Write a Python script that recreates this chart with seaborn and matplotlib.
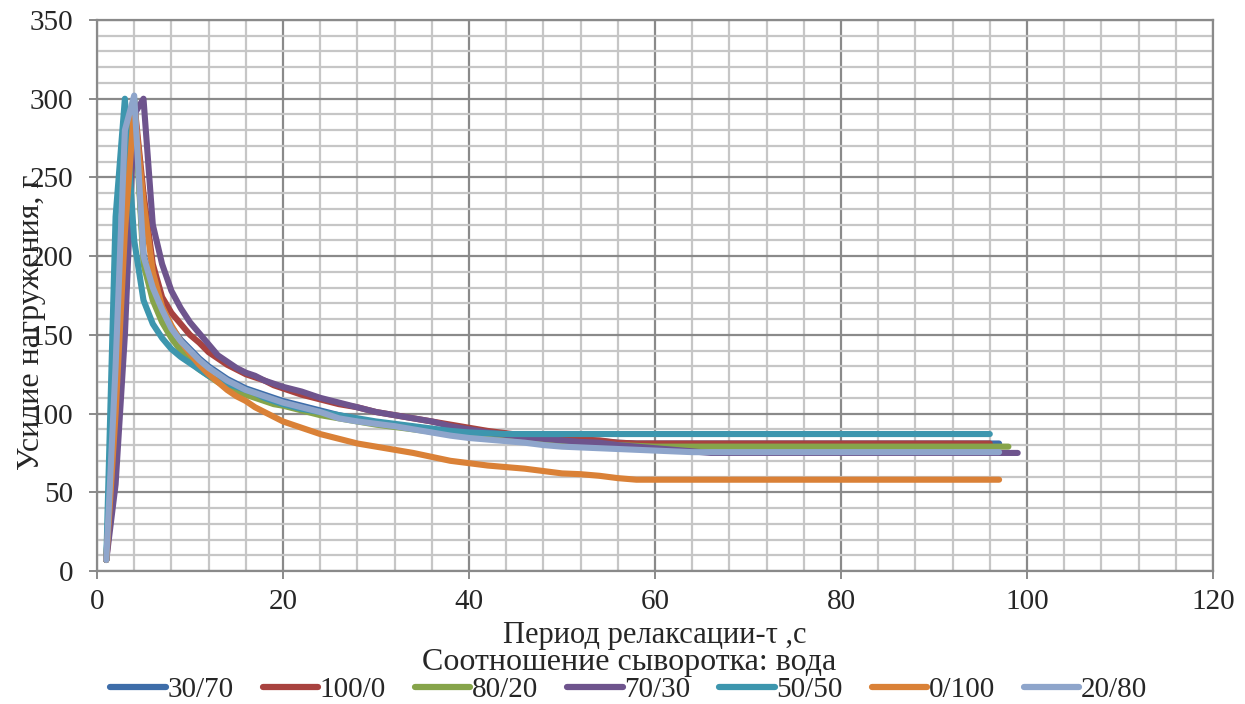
import numpy as np
import pandas as pd
import matplotlib
matplotlib.use("Agg")
import matplotlib.pyplot as plt
from matplotlib.ticker import MultipleLocator
import seaborn as sns

# time grid (s): every second up to 20, then every 2 s up to 66
time_s = list(range(1, 21)) + list(range(22, 67, 2))

ratios = ["30/70", "100/0", "80/20", "70/30", "50/50", "0/100", "20/80"]

f_30_70 = [7, 128, 278, 300, 201, 181, 167, 155, 147, 141, 135, 130, 126, 122, 119, 116, 114, 112, 110, 108,
           105, 102, 99, 96.5, 94, 92.5, 91, 89.5, 88.5, 87.5, 86.5, 86, 85, 84, 83.5, 83, 82.5, 81.5, 81, 81, 81, 81, 81]
f_100_0 = [7, 70, 190, 298, 240, 195, 174, 164, 157, 150, 145, 139, 135, 131, 128, 125, 123, 121, 118, 116,
           112, 109, 106, 104, 101, 99, 97, 95, 93, 91, 89, 87.5, 86, 85, 84, 83.5, 83, 81.5, 81, 81, 81, 81, 81]
f_80_20 = [7, 110, 260, 300, 195, 172, 158, 148, 140, 133, 128, 124, 120, 117, 114, 112, 110, 108, 106, 105,
           102, 99, 97, 95, 93, 91.5, 90, 88.5, 87, 86, 85, 84, 83, 82, 81.5, 81, 80.5, 80, 79.5, 79, 79, 79, 79]
f_70_30 = [7, 55, 150, 290, 300, 220, 195, 178, 167, 158, 151, 144, 137, 133, 129, 126, 124, 121, 119, 117,
           114, 110, 107, 104, 101, 99, 97, 95, 92, 90, 88, 86.5, 85, 84, 83, 82, 81.5, 80, 79, 78, 77, 76, 75]
f_50_50 = [7, 225, 300, 210, 172, 157, 148, 141, 136, 132, 128, 124, 121, 119, 117, 115, 113, 110, 108, 106,
           103, 101, 99, 97, 95, 93.5, 92, 90.5, 89, 88, 87.5, 87, 87, 87, 87, 87, 87, 87, 87, 87, 87, 87, 87]
f_0_100 = [7, 100, 215, 295, 235, 190, 168, 156, 146, 138, 131, 125, 120, 115, 111, 108, 104, 101, 98, 95,
           91, 87, 84, 81, 79, 77, 75, 72.5, 70, 68.5, 67, 66, 65, 63.5, 62, 61.5, 60.5, 59, 58, 58, 58, 58, 58]
f_20_80 = [7, 130, 280, 302, 200, 180, 166, 154, 146, 140, 134, 129, 125, 121, 118, 115, 113, 111, 109, 107,
           104, 101, 97, 95, 93.5, 92, 90, 88, 86, 84.5, 83.5, 82.5, 81.5, 80, 79, 78.5, 78, 77.5, 77, 76.5, 76, 75.5, 75.5]

# last recorded second of each run (value stays at the final level)
end_s = [97, 96, 98, 99, 96, 97, 97]

series = [f_30_70, f_100_0, f_80_20, f_70_30, f_50_50, f_0_100, f_20_80]
colors = ["#3E6DA9", "#A8423F", "#86A44A", "#6E548D", "#3D96AE", "#DA8137", "#8EA5CB"]

rows = []
for name, vals, last in zip(ratios, series, end_s):
    for t, v in zip(time_s + [last], vals + [vals[-1]]):
        rows.append((name, t, v))
df = pd.DataFrame(rows, columns=["ratio", "t", "force"])

sns.set_theme(style="white")
plt.rcParams["font.family"] = ["Liberation Serif", "DejaVu Serif"]

fig = plt.figure(figsize=(12.45, 7.04), dpi=100)
ax = fig.add_axes([0.0779, 0.1889, 0.8964, 0.7827])

sns.lineplot(data=df, x="t", y="force", hue="ratio", hue_order=ratios,
             palette=dict(zip(ratios, colors)), sort=False, estimator=None,
             linewidth=4.4, ax=ax, legend=False,
             solid_capstyle="round", solid_joinstyle="round")

ax.set_xlim(0, 120)
ax.set_ylim(0, 350)
ax.xaxis.set_major_locator(MultipleLocator(20))
ax.yaxis.set_major_locator(MultipleLocator(50))
ax.xaxis.set_minor_locator(MultipleLocator(4))
ax.yaxis.set_minor_locator(MultipleLocator(10))
ax.grid(which="minor", color="#C6C6C6", linewidth=1.6)
ax.grid(which="major", color="#8A8A8A", linewidth=1.6)
ax.set_axisbelow(True)
for sp in ax.spines.values():
    sp.set_color("#8A8A8A")
    sp.set_linewidth(1.6)

ax.tick_params(which="major", direction="out", length=6, width=1.4, color="#8A8A8A",
               labelsize=21, left=True, bottom=True)
ax.tick_params(axis="x", pad=7)
ax.tick_params(axis="y", pad=11)
ax.tick_params(which="minor", length=0)

ax.set_xlabel("Период релаксации-τ ,с", fontsize=22)
ax.set_ylabel("Усилие нагружения, г", fontsize=23)
ax.xaxis.set_label_coords(0.5, -0.09)
ax.yaxis.set_label_coords(-0.046, 0.452)

handles = [plt.Line2D([], [], color=c, linewidth=4.5, solid_capstyle="round") for c in colors]
leg = fig.legend(handles, ratios, loc="lower center", bbox_to_anchor=(0.505, -0.024), ncol=7,
                 frameon=False, fontsize=21, title="Соотношение сыворотка: вода",
                 title_fontsize=23, handlelength=1.9, handletextpad=0.05,
                 columnspacing=1.0, borderpad=0.1, labelspacing=0.2)
leg._legend_box.sep = 0

fig.savefig("out.png", dpi=100)
